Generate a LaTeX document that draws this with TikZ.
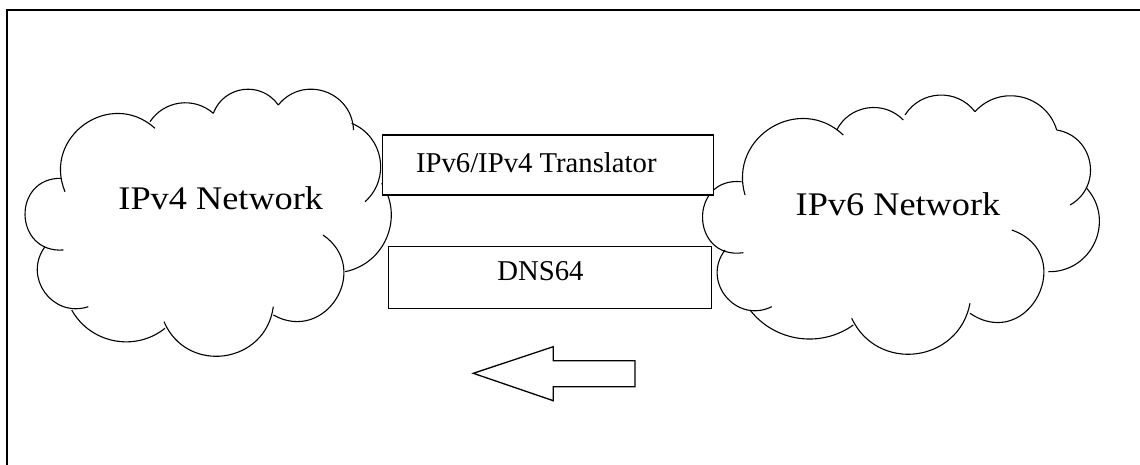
\documentclass[tikz,border=0pt]{standalone}
\usepackage{fontspec}
\setmainfont{Liberation Serif}
\usetikzlibrary{calc}
\tikzset{
  cloudline/.style={draw=black, line width=1.1pt},
  boxstyle/.style={draw=black, line width=1.2pt, inner sep=0pt},
  smalltext/.style={inner sep=0pt, anchor=base, font=\fontsize{28.7}{30}\selectfont},
  bigtext/.style={inner sep=0pt, anchor=base, font=\fontsize{33}{36}\selectfont},
  frameline/.style={draw=black, line width=2pt},
  arrowline/.style={draw=black, line width=1.3pt, line join=miter},
}
% lobe: start x,y ; end x,y ; bulge height (pixels)
\newcommand\lobe[5]{%
  \pgfmathsetmacro\lobec{10*veclen(((#3)-(#1))/10,((#4)-(#2))/10)}%
  \pgfmathsetmacro\lobet{2*atan(2*(#5)/\lobec)}%
  \pgfmathsetmacro\lobel{1/(3*cos(\lobet/2)^2)/0.3915}%
  \draw[cloudline] (#1,#2) to[bend left=\lobet, looseness=\lobel] (#3,#4);}
\begin{document}
\begin{tikzpicture}[x=1pt,y=-1pt]
\useasboundingbox (0,0) rectangle (1140,464);
\clip (0,0) rectangle (1140,464);
\fill[white] (0,0) rectangle (1140,464);
% outer frame (right and bottom edges lie outside the picture)
\draw[frameline] (7,480) -- (7,10) -- (1160,10);

% left cloud (IPv4)
\lobe{65}{191.7}{155}{128.3}{44}
\lobe{150}{121.7}{213.3}{113.3}{14.5}
\lobe{213.3}{113.3}{278.3}{105}{19.8}
\lobe{278.3}{105}{353.5}{130}{27.5}
\lobe{351.7}{123.3}{365}{201.7}{22}
\lobe{381.7}{183.3}{345}{271.7}{25.5}
\lobe{323}{235}{273.3}{315}{45}
\lobe{273.3}{306.7}{164}{321.7}{42}
\lobe{165}{328.3}{71.7}{310}{22}
\lobe{88.3}{306.7}{45}{246.7}{27}
\lobe{63.3}{250}{61.7}{178.3}{37.5}

% right cloud (IPv6)
\lobe{745}{195}{843.3}{135}{44}
\lobe{836.7}{130}{903.3}{120}{17.3}
\lobe{905}{115}{975}{111.7}{18.3}
\lobe{975}{111.7}{1056.7}{130}{24.5}
\lobe{1056.7}{130}{1070}{205}{27}
\lobe{1086.7}{188.3}{1048.3}{271.7}{30}
\lobe{1011.7}{230}{970}{313.3}{53}
\lobe{970}{303.3}{851.7}{318.3}{43.3}
\lobe{853.3}{325}{750}{310}{21}
\lobe{771.7}{306.7}{725}{250}{29}
\lobe{743.3}{252.7}{741.7}{181.7}{40}

% boxes
\node[boxstyle, fill=white, minimum width=330.6pt, minimum height=60pt] (translator) at (548,165) {};
\node[boxstyle, fill=white, minimum width=323.4pt, minimum height=61.6pt] (dns) at (550,277.5) {};
\node[smalltext] (translatortext) at (536.3,172.7) {IPv6/IPv4 Translator};
\node[smalltext] (dnstext) at (540.5,280.7) {DNS64};

% network labels
\node[bigtext] (ipv4) at (220.8,209) {\scalebox{1.1}[1]{IPv4 Network}};
\node[bigtext] (ipv6) at (898,215) {\scalebox{1.1}[1]{IPv6 Network}};

% block arrow
\draw[arrowline] (473.3,373.3) -- (553.3,346.7) -- (553.3,360.7) -- (635,360.7)
  -- (635,386.7) -- (553.3,386.7) -- (553.3,400.7) -- cycle;
\end{tikzpicture}
\end{document}
